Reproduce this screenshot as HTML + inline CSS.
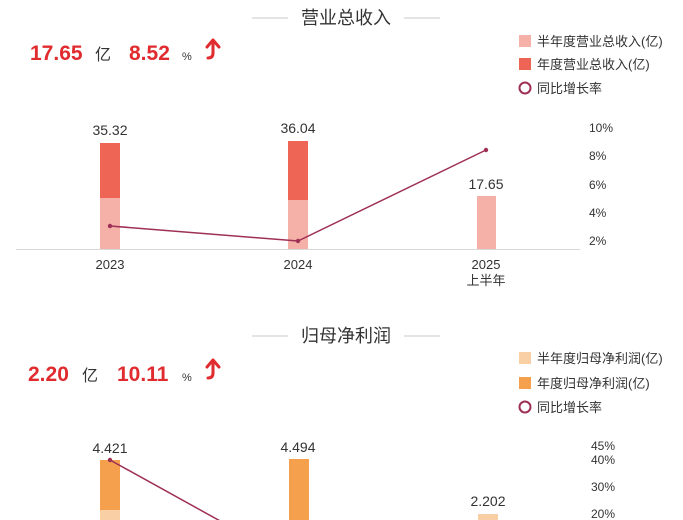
<!DOCTYPE html>
<html><head><meta charset="utf-8">
<style>
html,body{margin:0;padding:0;background:#fff;}
body{width:683px;height:520px;overflow:hidden;}
svg{display:block;}
text{font-family:"Liberation Sans","Noto Sans CJK SC",sans-serif;}
</style></head>
<body>
<svg width="683" height="520" viewBox="0 0 683 520" xmlns="http://www.w3.org/2000/svg">
<!-- ===== Chart 1 ===== -->
<line x1="252" y1="18" x2="288" y2="18" stroke="#c8c8c8" stroke-width="1"/>
<line x1="404" y1="18" x2="440" y2="18" stroke="#c8c8c8" stroke-width="1"/>
<text x="346" y="24" font-size="18" fill="#333" text-anchor="middle">营业总收入</text>

<text x="30" y="60" font-size="21" font-weight="bold" fill="#e02b2f">17.65</text>
<text x="95" y="60" font-size="16" fill="#333">亿</text>
<text x="129" y="60" font-size="21" font-weight="bold" fill="#e02b2f">8.52</text>
<text x="182" y="60" font-size="11" fill="#333">%</text>
<path d="M213 42 L213 53 Q213 58 208 58" fill="none" stroke="#e02b2f" stroke-width="3" stroke-linecap="round"/>
<path d="M207 47 L213 40 L219 47" fill="none" stroke="#e02b2f" stroke-width="3" stroke-linejoin="round" stroke-linecap="round"/>

<rect x="519" y="35" width="12" height="12" fill="#f5b0a8"/>
<text x="537" y="46" font-size="13" fill="#333">半年度营业总收入(亿)</text>
<rect x="519" y="58" width="12" height="12" fill="#ee6455"/>
<text x="537" y="69" font-size="13" fill="#333">年度营业总收入(亿)</text>
<circle cx="525" cy="88" r="5.5" fill="none" stroke="#9e2f55" stroke-width="2"/>
<text x="537" y="93" font-size="13" fill="#333">同比增长率</text>

<line x1="16" y1="249.5" x2="580" y2="249.5" stroke="#d8d8d8" stroke-width="1"/>
<rect x="100" y="143" width="20" height="55" fill="#ee6455"/>
<rect x="100" y="198" width="20" height="51" fill="#f5b0a8"/>
<rect x="288" y="141" width="20" height="59" fill="#ee6455"/>
<rect x="288" y="200" width="20" height="49" fill="#f5b0a8"/>
<rect x="477" y="196" width="19" height="53" fill="#f5b0a8"/>

<text x="110" y="135" font-size="14" fill="#333" text-anchor="middle">35.32</text>
<text x="298" y="133" font-size="14" fill="#333" text-anchor="middle">36.04</text>
<text x="486" y="189" font-size="14" fill="#333" text-anchor="middle">17.65</text>

<text x="110" y="269" font-size="13" fill="#333" text-anchor="middle">2023</text>
<text x="298" y="269" font-size="13" fill="#333" text-anchor="middle">2024</text>
<text x="486" y="269" font-size="13" fill="#333" text-anchor="middle">2025</text>
<text x="486" y="285" font-size="13" fill="#333" text-anchor="middle">上半年</text>

<polyline points="110,226 298,241 486,150" fill="none" stroke="#9e2f55" stroke-width="1.5"/>
<circle cx="110" cy="226" r="2.2" fill="#9e2f55"/>
<circle cx="298" cy="241" r="2.2" fill="#9e2f55"/>
<circle cx="486" cy="150" r="2.2" fill="#9e2f55"/>

<text x="589" y="132" font-size="12" fill="#333">10%</text>
<text x="589" y="160" font-size="12" fill="#333">8%</text>
<text x="589" y="189" font-size="12" fill="#333">6%</text>
<text x="589" y="217" font-size="12" fill="#333">4%</text>
<text x="589" y="245" font-size="12" fill="#333">2%</text>

<!-- ===== Chart 2 ===== -->
<line x1="252" y1="336" x2="288" y2="336" stroke="#c8c8c8" stroke-width="1"/>
<line x1="404" y1="336" x2="440" y2="336" stroke="#c8c8c8" stroke-width="1"/>
<text x="346" y="342" font-size="18" fill="#333" text-anchor="middle">归母净利润</text>

<text x="28" y="381" font-size="21" font-weight="bold" fill="#e02b2f">2.20</text>
<text x="82" y="381" font-size="16" fill="#333">亿</text>
<text x="117" y="381" font-size="21" font-weight="bold" fill="#e02b2f">10.11</text>
<text x="182" y="381" font-size="11" fill="#333">%</text>
<path d="M213 362 L213 373 Q213 378 208 378" fill="none" stroke="#e02b2f" stroke-width="3" stroke-linecap="round"/>
<path d="M207 367 L213 360 L219 367" fill="none" stroke="#e02b2f" stroke-width="3" stroke-linejoin="round" stroke-linecap="round"/>

<rect x="519" y="352" width="12" height="12" fill="#f9cfa5"/>
<text x="537" y="363" font-size="13" fill="#333">半年度归母净利润(亿)</text>
<rect x="519" y="377" width="12" height="12" fill="#f4a04c"/>
<text x="537" y="388" font-size="13" fill="#333">年度归母净利润(亿)</text>
<circle cx="525" cy="407" r="5.5" fill="none" stroke="#9e2f55" stroke-width="2"/>
<text x="537" y="412" font-size="13" fill="#333">同比增长率</text>

<rect x="100" y="460" width="20" height="50" fill="#f4a04c"/>
<rect x="100" y="510" width="20" height="10" fill="#f9cfa5"/>
<rect x="289" y="459" width="20" height="61" fill="#f4a04c"/>
<rect x="478" y="514" width="20" height="6" fill="#f9cfa5"/>

<text x="110" y="453" font-size="14" fill="#333" text-anchor="middle">4.421</text>
<text x="298" y="452" font-size="14" fill="#333" text-anchor="middle">4.494</text>
<text x="488" y="506" font-size="14" fill="#333" text-anchor="middle">2.202</text>

<polyline points="110,460 222,522" fill="none" stroke="#9e2f55" stroke-width="1.5"/>
<circle cx="110" cy="460" r="2.2" fill="#9e2f55"/>

<text x="591" y="450" font-size="12" fill="#333">45%</text>
<text x="591" y="464" font-size="12" fill="#333">40%</text>
<text x="591" y="491" font-size="12" fill="#333">30%</text>
<text x="591" y="518" font-size="12" fill="#333">20%</text>
</svg>
</body></html>
